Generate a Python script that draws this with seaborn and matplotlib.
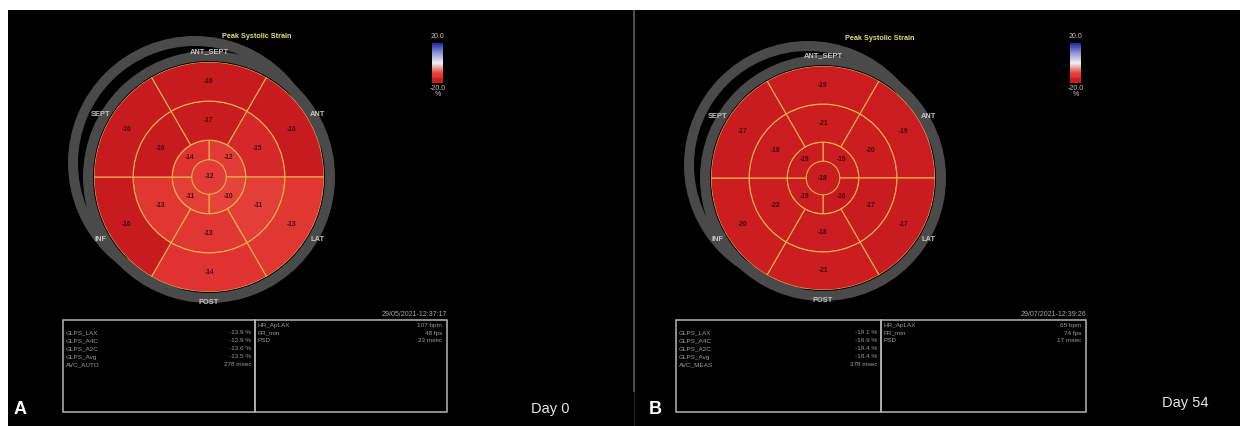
import numpy as np
import matplotlib
matplotlib.use("Agg")
import matplotlib.pyplot as plt
import seaborn as sns
from matplotlib.colors import LinearSegmentedColormap, Normalize
from matplotlib.patches import Rectangle, Circle
import matplotlib.cm as cm

# ---------------- data ----------------
segment_names = ["ANT_SEPT", "ANT", "LAT", "POST", "INF", "SEPT"]
ring6_theta_deg = [90, 30, -30, -90, -150, 150]
apical_theta_deg = [45, -45, -135, 135]

basal_day0 = [-16, -16, -13, -14, -16, -16]
mid_day0 = [-17, -15, -11, -13, -13, -16]
apical_day0 = [-12, -10, -11, -14]
apex_day0 = -12

basal_day54 = [-19, -19, -17, -21, -20, -17]
mid_day54 = [-21, -20, -17, -18, -22, -18]
apical_day54 = [-19, -16, -19, -19]
apex_day54 = -18

glps_labels_day0 = ["GLPS_LAX", "GLPS_A4C", "GLPS_A2C", "GLPS_Avg", "AVC_AUTO"]
glps_values_day0 = ["-13.9 %", "-12.9 %", "-13.6 %", "-13.5 %", "278 msec"]
glps_labels_day54 = ["GLPS_LAX", "GLPS_A4C", "GLPS_A2C", "GLPS_Avg", "AVC_MEAS"]
glps_values_day54 = ["-19.1 %", "-16.9 %", "-19.4 %", "-18.4 %", "378 msec"]
info_labels = ["HR_ApLAX", "FR_min", "PSD"]
info_values_day0 = ["107 bpm", "48 fps", "23 msec"]
info_values_day54 = ["65 bpm", "74 fps", "17 msec"]
dates = ["29/05/2021-12:37:17", "29/07/2021-12:39:26"]
day_labels = ["Day 0", "Day 54"]
panel_letters = ["A", "B"]
scale_limits = [-20.0, 20.0]

# ---------------- style ----------------
sns.set_theme(style="dark")
plt.rcParams["font.family"] = ["Liberation Sans", "DejaVu Sans"]

W, H = 1240, 426
fig = plt.figure(figsize=(W / 100, H / 100), dpi=100, facecolor="white")
bg = fig.add_axes([0, 0, 1, 1])
bg.set_xlim(0, W)
bg.set_ylim(H, 0)
bg.set_axis_off()
bg.add_patch(Rectangle((8, 10), W - 8, H - 10, facecolor="black", edgecolor="none", zorder=0))
bg.add_patch(Rectangle((633, 10), 2.2, 382, facecolor="#4d4d4d", edgecolor="none", zorder=1))
bg.plot([634, 634], [392, H], color="#2b2b2b", lw=0.6, zorder=1)

cmap = LinearSegmentedColormap.from_list(
    "strain",
    [(0.0, "#cc1d21"), (0.1, "#c81b20"), (0.125, "#d6272a"), (0.15, "#e03431"),
     (0.25, "#e6423c"), (0.5, "#f2f2f2"), (0.75, "#8f95d6"), (1.0, "#1d2a9c")])
norm = Normalize(*scale_limits)
EDGE = "#e9b443"
RING = "#4a4a4a"
LABEL = "#c4c4c4"
TXT = "#9c9c9c"

panels = [
    dict(cx=209, cy=177, r=115, off=(-14, -14), basal=basal_day0, mid=mid_day0,
         apical=apical_day0, apex=apex_day0, title=(257, 37), cbar=(432, 43),
         box=(63, 255, 447), glps_l=glps_labels_day0, glps_v=glps_values_day0,
         info_v=info_values_day0, date=dates[0], day=day_labels[0], day_xy=(550, 409),
         letter=panel_letters[0], letter_x=20),
    dict(cx=823, cy=178, r=112, off=(-15, -13), basal=basal_day54, mid=mid_day54,
         apical=apical_day54, apex=apex_day54, title=(880, 39), cbar=(1070, 43),
         box=(676, 881, 1086), glps_l=glps_labels_day54, glps_v=glps_values_day54,
         info_v=info_values_day54, date=dates[1], day=day_labels[1], day_xy=(1185, 403),
         letter=panel_letters[1], letter_x=655),
]

R = [0.0, 0.15, 0.32, 0.66, 1.0]
th6 = np.deg2rad(ring6_theta_deg)
th4 = np.deg2rad(apical_theta_deg)

for p in panels:
    cx, cy, r = p["cx"], p["cy"], p["r"]
    # gray rings (decorative)
    rr = r + 6
    lw = 10 * 72 / 100
    bg.add_patch(Circle((cx + p["off"][0], cy + p["off"][1]), rr + 1, fill=False,
                        edgecolor=RING, lw=lw, zorder=2))
    bg.add_patch(Circle((cx, cy), rr, fill=False, edgecolor=RING, lw=lw, zorder=2))

    ax = fig.add_axes([(cx - r) / W, 1 - (cy + r) / H, 2 * r / W, 2 * r / H],
                      projection="polar")
    ax.set_axis_off()
    ax.set_ylim(0, 1)
    ax.bar(0, R[1], width=2 * np.pi, bottom=0, color=cmap(norm(p["apex"])),
           edgecolor="none", linewidth=0)
    ax.bar(th4, R[2] - R[1], width=np.pi / 2, bottom=R[1],
           color=[cmap(norm(v)) for v in p["apical"]], edgecolor=EDGE, linewidth=0.8)
    ax.bar(th6, R[3] - R[2], width=np.deg2rad(60), bottom=R[2],
           color=[cmap(norm(v)) for v in p["mid"]], edgecolor=EDGE, linewidth=0.8)
    ax.bar(th6, R[4] - R[3], width=np.deg2rad(60), bottom=R[3],
           color=[cmap(norm(v)) for v in p["basal"]], edgecolor=EDGE, linewidth=0.8)

    tkw = dict(ha="center", va="center", fontsize=4.8, color="#2a0505", alpha=0.85,
               fontweight="bold")
    ax.text(0, 0, f"{p['apex']}", **tkw)
    for t, v in zip(th4, p["apical"]):
        ax.text(t, 0.235, f"{v}", **tkw)
    for t, v in zip(th6, p["mid"]):
        ax.text(t, 0.49, f"{v}", **tkw)
    for t, v in zip(th6, p["basal"]):
        ax.text(t, 0.83, f"{v}", **tkw)
    for t, name in zip(th6, segment_names):
        ax.text(t, 1.09, name, ha="center", va="center", fontsize=5.4, color=LABEL,
                fontweight="bold", clip_on=False)

    # title
    bg.text(*p["title"], "Peak Systolic Strain", ha="center", va="center",
            fontsize=5.2, color="#e3e07a", fontweight="bold", zorder=5)

    # colour scale
    x0, y0 = p["cbar"]
    cax = fig.add_axes([x0 / W, 1 - 83 / H, 11 / W, 40 / H])
    cb = fig.colorbar(cm.ScalarMappable(norm=norm, cmap=cmap), cax=cax)
    cb.outline.set_visible(False)
    cax.set_yticks([])
    bg.text(x0 + 5.5, 37, f"{scale_limits[1]:.1f}", ha="center", va="center",
            fontsize=5, color=LABEL, zorder=5)
    bg.text(x0 + 5.5, 88, f"{scale_limits[0]:.1f}", ha="center", va="center",
            fontsize=5, color=LABEL, zorder=5)
    bg.text(x0 + 5.5, 95, "%", ha="center", va="center", fontsize=5,
            color=LABEL, zorder=5)

    # info table
    bl, bm, br = p["box"]
    bg.add_patch(Rectangle((bl, 320), bm - bl, 92, fill=False, edgecolor="#b5b5b5",
                           lw=1.1, zorder=3))
    bg.add_patch(Rectangle((bm, 320), br - bm, 92, fill=False, edgecolor="#b5b5b5",
                           lw=1.1, zorder=3))
    bg.text(br, 314, p["date"], ha="right", va="center", fontsize=5, color="#a8a8a8")
    for i, (lab, val) in enumerate(zip(p["glps_l"], p["glps_v"])):
        y = 333 + 8 * i
        bg.text(bl + 3, y, lab, ha="left", va="center", fontsize=4.6, color=TXT)
        bg.text(bm - 4, y, val, ha="right", va="center", fontsize=4.6, color=TXT)
    for i, (lab, val) in enumerate(zip(info_labels, p["info_v"])):
        y = 325 + 8 * i
        bg.text(bm + 3, y, lab, ha="left", va="center", fontsize=4.6, color=TXT)
        bg.text(br - 5, y, val, ha="right", va="center", fontsize=4.6, color=TXT)

    bg.text(*p["day_xy"], p["day"], ha="center", va="center", fontsize=10.5,
            color="#e6e6e6")
    bg.text(p["letter_x"], 409, p["letter"], ha="center", va="center", fontsize=13,
            color="white", fontweight="bold")

fig.savefig("out.png", dpi=100, facecolor="white")
